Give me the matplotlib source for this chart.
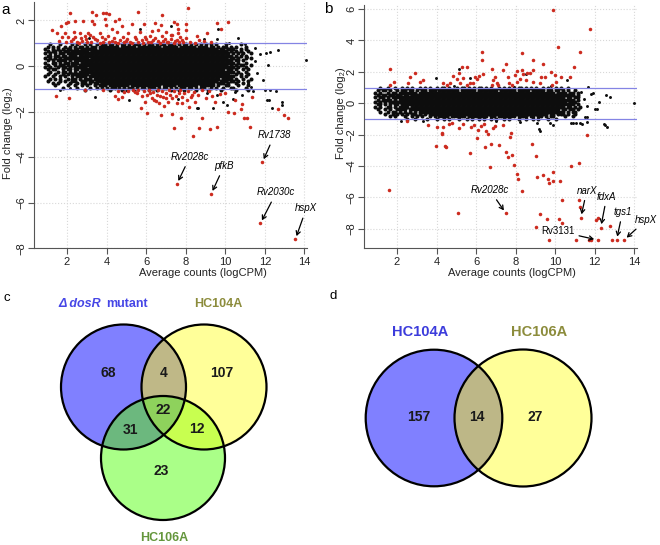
import numpy as np
import matplotlib
matplotlib.use("Agg")
import matplotlib.pyplot as plt
from matplotlib.patches import Circle

plt.rcParams['font.family'] = ['Liberation Sans', 'DejaVu Sans']

# ---------------- DATA ----------------
# Panel a : significant genes (red)
ra_x = [8.10,2.17,3.25,3.47,3.80,3.95,4.12,5.61,6.80,4.61,4.43,3.90,3.25,2.42,2.05,1.95,2.83,5.88,
        6.45,7.43,8.00,9.60,10.12,9.77,1.70,1.22,3.95,3.35,4.76,5.27,6.75,7.58,8.02,7.63,1.48,1.90,
        2.35,2.66,3.08,3.67,4.26,4.54,5.10,5.69,6.31,6.62,7.00,7.26,7.59,8.59,9.06,1.73,2.07,2.40,
        2.69,2.91,3.16,3.33,3.75,4.06,4.85,5.44,5.94,6.20,6.79,7.33,7.71,7.80,8.69,2.20,2.49,2.74,
        3.00,3.50,3.84,4.26,4.43,4.97,5.18,5.77,6.08,6.36,6.58,6.87,7.12,7.46,7.88,
        2.60,2.95,3.20,3.40,3.65,3.90,4.10,4.35,4.60,4.70,4.90,5.05,5.30,5.50,5.60,5.85,6.00,6.25,
        6.45,6.70,6.95,7.05,7.25,7.40,7.55,7.65,8.00,8.20,8.45,8.90,9.30,2.30,1.95,1.60,
        1.44,2.12,2.91,4.43,4.56,4.76,5.35,5.52,5.77,5.74,6.03,6.19,6.28,6.42,6.53,6.65,6.75,6.87,
        6.99,7.09,7.29,7.33,7.43,7.54,7.66,7.75,7.80,8.05,8.17,8.30,8.35,8.47,8.69,8.84,9.01,9.23,
        9.48,9.60,9.73,9.99,10.16,10.44,10.49,10.78,10.83,10.97,11.12,11.34,11.27,12.68,12.99,13.19,3.84,
        5.10,5.45,5.60,5.90,6.05,6.15,6.35,6.60,6.70,6.80,7.00,7.15,7.20,7.40,7.50,7.70,7.90,8.10,
        8.25,8.40,8.60,8.80,9.20,9.35,4.90,4.60,6.50,5.95,7.80,6.90]
ra_y = [2.55,2.34,2.37,2.22,2.31,2.31,2.28,2.39,2.22,2.06,1.99,2.06,1.96,1.98,1.93,1.90,1.96,1.84,
        1.87,1.92,1.84,1.87,1.95,1.61,1.77,1.58,1.80,1.83,1.76,1.83,1.80,1.84,1.58,1.61,1.43,1.46,
        1.48,1.43,1.43,1.46,1.61,1.48,1.43,1.48,1.54,1.58,1.51,1.36,1.46,1.32,1.46,1.29,1.26,1.29,
        1.22,1.32,1.36,1.26,1.29,1.32,1.29,1.29,1.29,1.32,1.32,1.36,1.26,1.14,1.14,1.11,1.07,1.11,
        1.07,1.14,1.07,1.11,1.07,1.11,1.07,1.14,1.07,1.14,1.08,1.11,1.07,1.11,1.07,
        1.03,1.18,1.04,1.20,1.03,1.19,1.04,1.22,1.03,1.16,1.04,1.20,1.03,1.17,1.04,1.03,1.20,1.04,
        1.22,1.03,1.18,1.04,1.20,1.03,1.15,1.04,1.22,1.04,1.03,1.12,1.05,1.20,1.05,1.12,
        -1.32,-1.42,-1.05,-1.30,-1.45,-1.35,-1.05,-1.20,-1.30,-1.86,-2.08,-1.20,-1.39,-1.49,-1.27,-1.64,-2.15,-1.35,
        -1.20,-1.57,-1.42,-2.12,-2.74,-1.64,-1.20,-2.30,-1.35,-1.49,-1.79,-1.27,-3.07,-1.57,-2.74,-2.27,-1.42,-2.78,
        -1.57,-2.66,-1.24,-1.20,-2.01,-2.08,-1.49,-1.90,-1.68,-2.26,-2.26,-1.35,-2.66,-1.90,-2.15,-2.26,-1.05,
        -1.08,-1.12,-1.04,-1.10,-1.25,-1.05,-1.12,-1.06,-1.30,-1.10,-1.42,-1.06,-1.25,-1.10,-1.30,-1.05,-1.18,-1.08,
        -1.38,-1.12,-1.25,-1.06,-1.10,-1.30,-1.15,-1.10,-1.55,-1.60,-1.62,-1.75]

# Panel a : non-significant genes outside the dense cloud (black)
ka_x = [3.13,5.69,7.27,9.64,9.60,10.66,11.00,12.06,12.26,12.65,14.07,12.18,11.76,10.83,11.10,11.50,
        11.60,11.90,12.09,12.20,12.85,12.89,12.35,12.01,12.26,12.55,11.42,11.17,8.64,8.56,9.40,9.90,
        10.07,10.40,10.83,10.49,3.42,1.65,2.15,5.15,7.63,9.06,9.57,8.90,10.20,11.50,11.30]
ka_y = [1.24,1.61,1.76,1.61,1.19,1.22,0.97,0.56,0.63,0.69,0.28,0.04,0.51,0.51,0.40,0.20,
        -0.30,-0.60,-1.49,-1.47,-1.57,-1.71,-1.83,-1.05,-1.05,-1.10,-1.10,-0.76,-1.83,-1.86,-1.86,-1.57,
        -1.71,-1.45,-1.27,-1.13,-1.35,-1.05,-0.98,-1.49,-1.45,-1.20,-1.27,1.20,1.00,0.80,-0.90]

# Panel a : dense cloud, read as an occupancy map ('#' = genes present)
C44 = "#" * 44
cloud_a_y = [0.95,0.85,0.75,0.65,0.55,0.45,0.35,0.25,0.15,0.05,-0.05,-0.15,-0.25,-0.35,-0.45,
             -0.55,-0.65,-0.75,-0.85,-0.95,-1.05]
cloud_a = [
 "..#. ..#. ...#  .#.. #.#. .#.#  #.## .#.# #.#. ###. #.## .#.# #.## #.#. ##.# .#.# .#.#  .#.. .#..  ...# ....  .... ....",
 ".#.# .#.. #.#.  #.## .#.# #.##  #### ##.# #### #.## #### ###. #### ##.# #### #.## ##.#  #.#. ##.#  .#.. .#..  .... ....",
 "#..# .#.# .##.  ##.# #### #.##  " + C44 + "  ##.# #.##  #..# .#..  .... ....",
 ".#.# #.#. ##.#  #### ##.# ####  " + C44 + "  #### ##.#  .#.# ..#.  .... ....",
 "#.#. #.## .###  #### #### ####  " + C44 + "  #### ###.  #.#. #..#  .... ....",
 ".##. ##.# #.##  #.## #### ####  " + C44 + "  #### ####  .#.# .#..  .... ....",
 "#.#. #.#. ####  #### ##.# ####  " + C44 + "  #### ##.#  #.#. .#.#  .... ....",
 ".#.# .### #.#.  #### #### ####  " + C44 + "  #### ####  .##. #...  .... ....",
 "#..# #.#. ##.#  ##.# #### ####  " + C44 + "  #### ####  #.#. .#..  .... ....",
 ".#.. #.## .#.#  #.## #### ####  " + C44 + "  #### ##.#  .#.# #..#  .... ....",
 "#.#. .#.# #.#.  #### #.## ####  " + C44 + "  #### ####  #.#. .#..  .... ....",
 ".#.# #..# .##.  ##.# #### ####  " + C44 + "  #### #.##  .#.. #.#.  .... ....",
 "..#. .#.# #.#.  #.## #### ####  " + C44 + "  #### ####  #.#. .#..  .... ....",
 ".#.. #..# .#.#  #### ##.# ####  " + C44 + "  #### ###.  .#.# ..#.  .... ....",
 "#..# ..#. #..#  .### #.## ####  " + C44 + "  #### ####  #..# .#..  .... ....",
 "..#. #.#. .#.#  #.#. ###. ####  " + C44 + "  ###. ####  .#.. #..#  .... ....",
 ".#.. ..#. #..#  #..# #.## .###  " + C44 + "  ##.# ##.#  #.#. ..#.  .... ....",
 "...# .#.. ..#.  .#.# #.#. ##.#  " + C44 + "  #.## #.#.  .#.. #...  .... ....",
 ".... #... .#..  #..# .#.. #.##  #.## #### ##.# #### #### ###. #### #.## #### ##.# ####  #.#. .##.  ..#. ..#.  .... ....",
 ".... ...# ....  .#.. ..#. .#.#  .#.# #.#. #.## .#.# #.## #.#. ##.# .#.# #.## .#.# #..#  .#.. #..#  #... .#..  .... ....",
 ".... .... ....  .... #... ....  ..#. ...# .#.. #... ..#. .#.. ...# ..#. #... .#.. ..#.  ...# ....  .#.. ..#.  .... ....",
]

# Panel a : labelled genes
genes_a = ["Rv2028c", "pfkB", "Rv1738", "Rv2030c", "hspX"]
ga_x = [7.55, 9.28, 11.87, 11.77, 13.54]
ga_y = [-5.18, -5.62, -4.23, -6.91, -7.61]

# Panel b : significant genes (red)
rb_x = [9.87,11.79,10.14,11.25,6.31,6.31,8.35,10.95,8.86,7.51,9.40,1.66,2.91,5.27,5.52,5.13,6.79,7.34,
        8.05,8.34,8.89,8.59,9.80,9.99,10.75,2.66,3.16,3.33,2.57,1.87,1.65,4.34,4.85,5.05,5.18,5.35,
        5.94,6.03,6.15,6.36,5.86,6.87,6.95,7.04,7.63,7.68,7.97,8.05,8.22,8.39,8.55,8.72,8.89,9.31,
        9.48,9.23,10.07,10.32,4.54,5.52,5.69,4.68,6.79,7.80,7.12,9.82,
        2.49,3.58,4.31,4.29,3.97,4.48,4.43,4.65,4.76,5.15,5.35,5.69,5.74,5.91,6.03,6.11,6.25,6.42,
        6.50,6.45,6.58,6.70,6.74,6.87,6.95,7.17,7.38,7.54,7.63,7.80,7.71,7.75,7.93,8.05,8.13,8.34,
        8.81,9.03,9.09,9.65,9.70,9.90,10.24,9.87,10.78,11.20,11.59,10.36,11.20,11.25,5.10,9.23,9.57,
        10.19,10.36,9.01,12.09,12.17,12.77,1.61,9.37,9.70,11.08,11.71,11.81,12.90,4.04,4.26]
rb_y = [5.94,4.71,3.59,3.29,3.27,2.74,3.23,2.34,2.74,2.53,2.53,2.17,1.95,2.29,2.29,1.91,2.17,2.12,
        2.08,2.12,2.12,1.95,2.02,1.80,1.66,1.66,1.36,1.49,1.32,1.34,1.19,1.32,1.74,1.53,1.32,1.59,
        1.66,1.53,1.74,1.87,1.32,1.49,1.70,1.32,1.66,1.32,1.80,1.38,1.53,1.87,1.49,1.95,1.38,1.70,
        1.70,1.32,1.38,1.66,1.17,1.17,1.27,1.27,1.17,1.17,1.17,1.17,
        -1.11,-1.38,-1.49,-1.98,-2.70,-2.80,-2.72,-1.32,-1.23,-1.59,-1.34,-3.19,-1.53,-1.38,-2.23,-1.70,-1.45,-1.32,
        -1.74,-2.80,-1.96,-4.08,-2.61,-1.59,-1.45,-2.66,-1.38,-3.08,-3.40,-3.29,-2.17,-1.91,-3.93,-4.50,-4.84,-5.56,
        -2.59,-3.36,-4.67,-4.84,-5.10,-4.95,-4.95,-4.35,-3.99,-3.82,-2.02,-6.16,-6.16,-6.58,-7.01,-7.07,-7.39,
        -7.39,-7.65,-7.86,-7.43,-7.33,-7.81,-5.52,-4.55,-8.71,-8.71,-8.71,-8.71,-8.71,-1.49,-1.87]

# Panel b : non-significant genes outside the dense cloud (black)
kb_x = [5.13,5.69,3.97,8.55,10.58,11.67,11.93,12.60,12.77,13.98,12.23,12.00,12.13,12.48,12.63,11.59,
        11.25,11.50,11.59,11.81,11.30,11.45,11.60,10.90,9.20,8.20,7.00,3.30,2.20,9.80,7.90,4.90,
        9.23,9.73,9.87,10.83,11.08,11.34,12.52,9.06]
kb_y = [2.17,1.59,1.59,1.87,1.49,1.06,0.64,0.53,0.38,0.00,0.11,-0.38,-0.38,-1.34,-1.49,-1.17,
        -1.23,-0.85,-0.89,0.59,0.70,0.30,-0.20,-1.25,-1.66,-1.20,-1.10,-1.15,-1.10,1.10,1.05,1.10,
        -1.74,-1.28,-1.38,-1.28,-1.28,-1.32,-1.38,-1.23]

# Panel b : dense cloud occupancy map
cloud_b_y = [0.975,0.825,0.675,0.525,0.375,0.225,0.075,-0.075,-0.225,-0.375,-0.525,-0.675,-0.825,-0.975]
cloud_b = [
 "..#. .#.. #..#  .#.# ..#. #.#.  .#.# #.#. .#.# #.#. #.## .#.# ..#. #.#. #.## .#.# .#..  #.#. .#.#  ..#. ....  .... ....",
 ".#.# #.#. .#.#  #.## .#.# #.##  #.## #### ##.# #### #.## #### ##.# #### #.## ###. ####  #.## .##.  #.#. .#..  .... ....",
 "#.#. .#.# #.##  #### #.## ####  " + C44 + "  #### #.##  ##.# #.#.  .... ....",
 ".#.# #.## .##.  ##.# #### ####  " + C44 + "  #### ####  #### #.#.  .... ....",
 "#.## .#.# ####  #### #### ####  " + C44 + "  #### ####  #.## .##.  .... ....",
 ".#.# ###. #.##  #### #### ####  " + C44 + "  #### ####  #### #.#.  .... ....",
 "#.#. #.## ####  #### #### ####  " + C44 + "  #### ####  ##.# ##..  .... ....",
 ".##. #.#. ##.#  #### #### ####  " + C44 + "  #### ####  #### #.#.  .... ....",
 "#.#. .##. #.##  ##.# #### ####  " + C44 + "  #### ####  #.## .#.#  .... ....",
 ".#.. #.#. .###  #.## #### ####  " + C44 + "  #### ###.  ##.# #.#.  .... ....",
 "..#. .#.# #.#.  #.#. #.## ####  " + C44 + "  #### ####  #.#. ##..  .... ....",
 ".... #..# .#.#  .#.# #.#. #.##  " + C44 + "  ##.# #.##  #.#. .#..  .... ....",
 ".... ..#. #...  #..# .#.# ..#.  #.## ##.# #### #.## #### ##.# #.## #### #.## ##.# #.##  .#.# #...  .#.. #...  .... ....",
 ".... .... ....  .#.. #... .#..  .#.. #.#. ..#. .#.# ..#. #..# .#.. #.#. ..#. .#.. #.#.  ..#. .#..  .... ....  .... ....",
]

# Panel b : labelled genes
genes_b = ["Rv2028c", "narX", "fdxA", "tgs1", "hspX", "Rv3131"]
gb_x = [7.51, 11.30, 12.31, 13.11, 13.49, 12.15]
gb_y = [-7.01, -7.29, -7.92, -8.71, -8.71, -8.71]

x_ticks = [2, 4, 6, 8, 10, 12, 14]
ya_ticks = [-8, -6, -4, -2, 0, 2]
yb_ticks = [-8, -6, -4, -2, 0, 2, 4, 6]

# Venn counts
venn_c_sets = ["\u0394 dosR mutant", "HC104A", "HC106A"]
venn_c_counts = [68, 4, 107, 22, 31, 12, 23]   # A, AB, B, ABC, AC, BC, C
venn_d_sets = ["HC104A", "HC106A"]
venn_d_counts = [157, 14, 27]                  # A, AB, B

# ---------------- LAYOUT / STYLE ----------------
W, H = 660, 545
RED = '#cc2b1f'
BLK = '#0d0d0d'
LINE = '#8484e4'
AXC = '#555555'

def fx(px):
    return px / W

def fy(py):
    return 1 - py / H

def occupancy(rows, yvals, x0=0.9, dx=0.125):
    xs, ys = [], []
    for r, yv in zip(rows, yvals):
        s = r.replace(' ', '')
        for i, ch in enumerate(s):
            if ch == '#':
                xs.append(x0 + i * dx)
                ys.append(yv)
    return xs, ys

fig = plt.figure(figsize=(6.6, 5.45), dpi=100)

# full-figure axes for the Venn diagrams
vax = fig.add_axes([0, 0, 1, 1])
vax.set_xlim(0, W)
vax.set_ylim(H, 0)
vax.axis('off')

def style_ma(ax, ylim, yticks):
    ax.set_xlim(0.33, 14.13)
    ax.set_ylim(*ylim)
    ax.set_xticks(x_ticks)
    ax.set_yticks(yticks)
    for s in ['top', 'right']:
        ax.spines[s].set_visible(False)
    for s in ['left', 'bottom']:
        ax.spines[s].set_color(AXC)
        ax.spines[s].set_linewidth(0.8)
    ax.tick_params(direction='out', length=4, width=0.8, color=AXC,
                   labelsize=8, labelcolor='#222222', pad=2.5)
    ax.tick_params(axis='y', labelrotation=90, pad=1.5)
    for lab in ax.get_yticklabels():
        lab.set_va('center')
    ax.grid(True, ls=':', color='#d8d8d8', lw=0.8)
    ax.set_axisbelow(True)
    ax.axhline(1, color=LINE, lw=0.9, zorder=2.5)
    ax.axhline(-1, color=LINE, lw=0.9, zorder=2.5)

def annotate(ax, names, gx, gy, offsets, italic_flags):
    for n, x, y, off, it in zip(names, gx, gy, offsets, italic_flags):
        ax.annotate(n, xy=(x, y), xytext=off, textcoords='offset pixels',
                    ha='center', va='center', fontsize=7, style='italic' if it else 'normal',
                    arrowprops=dict(arrowstyle='->,head_length=0.4,head_width=0.22', lw=0.9,
                                    color='black', shrinkA=1.5, shrinkB=2.5), zorder=5)

# ---- panel a
axa = fig.add_axes([fx(34), fy(248.3), (307 - 34) / W, (248.3 - 2) / H])
style_ma(axa, (-8.0, 2.81), ya_ticks)
cx, cy = occupancy(cloud_a, cloud_a_y)
axa.scatter(cx, cy, s=8.5, c=BLK, linewidths=0, zorder=2)
axa.scatter(ka_x, ka_y, s=4.5, c=BLK, linewidths=0, zorder=2)
axa.scatter(ra_x, ra_y, s=6.5, c=RED, linewidths=0, zorder=3)
axa.scatter(ga_x, ga_y, s=6.5, c=RED, linewidths=0, zorder=3)
annotate(axa, genes_a, ga_x, ga_y,
         [(13, 27), (13, 28), (12, 27), (16, 31), (11, 31)], [True] * 5)

# ---- panel b
axb = fig.add_axes([fx(364), fy(248.3), (636.7 - 364) / W, (248.3 - 5) / H])
style_ma(axb, (-9.24, 6.26), yb_ticks)
cx, cy = occupancy(cloud_b, cloud_b_y)
axb.scatter(cx, cy, s=8.5, c=BLK, linewidths=0, zorder=2)
axb.scatter(kb_x, kb_y, s=4.5, c=BLK, linewidths=0, zorder=2)
axb.scatter(rb_x, rb_y, s=6.5, c=RED, linewidths=0, zorder=3)
axb.scatter(gb_x, gb_y, s=6.5, c=RED, linewidths=0, zorder=3)
annotate(axb, genes_b, gb_x, gb_y,
         [(-16, 23), (6, 27), (6, 31), (6, 28), (22, 20), (-40, 9)],
         [True, True, True, True, True, False])

# axis titles
for (xl, yl) in [((203, 273), (8.5, 133)), ((512, 273), (341, 113))]:
    fig.text(fx(xl[0]), fy(xl[1]), "Average counts (logCPM)", ha='center', va='center',
             fontsize=8, color='#222222')
    fig.text(fx(yl[0]), fy(yl[1]), "Fold change (log\u2082)", ha='center', va='center',
             rotation=90, fontsize=8, color='#222222')

# panel letters
fig.text(fx(1.5), fy(10), 'a', fontsize=11, ha='left', va='center')
fig.text(fx(324), fy(9), 'b', fontsize=11, ha='left', va='center')
fig.text(fx(3), fy(298), 'c', fontsize=9.5, ha='left', va='center')
fig.text(fx(330), fy(296), 'd', fontsize=9.5, ha='left', va='center')

# ---- Venn diagrams (region colours rasterised from circle membership)
def hex2rgb(h):
    h = h.lstrip('#')
    return tuple(int(h[i:i + 2], 16) / 255 for i in (0, 2, 4))

def venn_raster(circles, colors, x0, x1, y0, y1, res=3):
    xs = x0 + (np.arange(int((x1 - x0) * res)) + 0.5) / res
    ys = y0 + (np.arange(int((y1 - y0) * res)) + 0.5) / res
    X, Y = np.meshgrid(xs, ys)
    code = np.zeros(X.shape, dtype=int)
    for i, (ccx, ccy, r) in enumerate(circles):
        code |= (((X - ccx) ** 2 + (Y - ccy) ** 2) <= r ** 2).astype(int) << i
    img = np.zeros(X.shape + (4,))
    for k, col in colors.items():
        img[code == k] = hex2rgb(col) + (1.0,)
    vax.imshow(img, extent=(x0, x1, y1, y0), interpolation='nearest', aspect='auto', zorder=1)
    for (ccx, ccy, r) in circles:
        vax.add_patch(Circle((ccx, ccy), r, fill=False, ec='black', lw=1.6, zorder=2))

circ_c = [(123.5, 387, 62.5), (204, 387, 62.5), (163, 458, 62)]
venn_raster(circ_c, {1: '#8080ff', 2: '#ffff99', 4: '#aaff88', 3: '#bfb887',
                     5: '#6cb87e', 6: '#c8ff50', 7: '#8ed25c'}, 55, 275, 318, 528)
circ_d = [(434, 418, 68.3), (523, 418, 68.5)]
venn_raster(circ_d, {1: '#8080ff', 2: '#ffff99', 3: '#bdb787'}, 360, 600, 344, 492)

# Venn c labels
vax.text(101, 304, "\u0394 dosR", ha='right', va='center', fontsize=9, fontweight='bold',
         style='italic', color='#4646e6', zorder=3)
vax.text(106, 304, "mutant", ha='left', va='center', fontsize=9, fontweight='bold',
         color='#4646e6', zorder=3)
vax.text(218, 304, venn_c_sets[1], ha='center', va='center', fontsize=9, fontweight='bold',
         color='#8c8c3c', zorder=3)
vax.text(164.5, 538, venn_c_sets[2], ha='center', va='center', fontsize=9, fontweight='bold',
         color='#64963c', zorder=3)
pos_c = [(108.3, 372.7), (163.3, 372.7), (221.7, 372.7), (163.3, 410), (130.7, 430),
         (196.7, 429.3), (161, 470.7)]
for (px, py), n in zip(pos_c, venn_c_counts):
    vax.text(px, py, str(n), ha='center', va='center', fontsize=10, fontweight='bold',
             color='#1a1a1a', zorder=3)

# Venn d labels
vax.text(420, 332, venn_d_sets[0], ha='center', va='center', fontsize=10.5, fontweight='bold',
         color='#3c3cdc', zorder=3)
vax.text(539, 332, venn_d_sets[1], ha='center', va='center', fontsize=10.5, fontweight='bold',
         color='#8c8c3c', zorder=3)
pos_d = [(419, 417.3), (476.7, 417.3), (535, 417.3)]
for (px, py), n in zip(pos_d, venn_d_counts):
    vax.text(px, py, str(n), ha='center', va='center', fontsize=10, fontweight='bold',
             color='#1a1a1a', zorder=3)

fig.savefig('out.png', dpi=100)
